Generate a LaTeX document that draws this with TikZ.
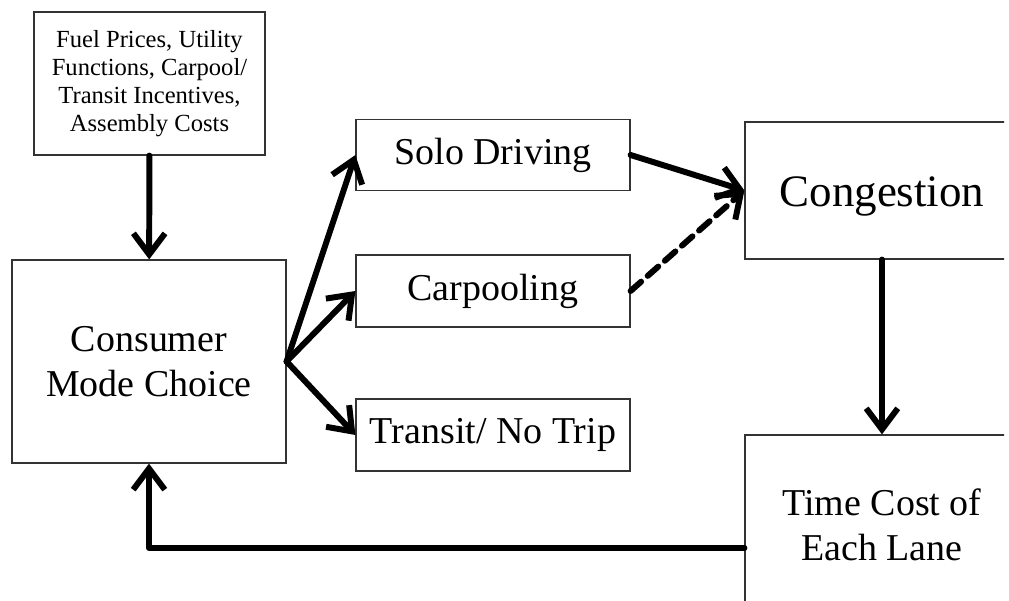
\documentclass[tikz,border=0pt]{standalone}
\usepackage{fontspec}
\setmainfont{Liberation Serif}
\usetikzlibrary{arrows.meta}

\begin{document}
\begin{tikzpicture}[x=0.02cm, y=-0.02cm]
                \useasboundingbox (0,0) rectangle (1009,601);
                \clip (0,0) rectangle (1004,601);
                \begin{scope}[every node/.style={draw=black!80, line width=0.7pt, align=center, inner sep=0pt, font=\fontsize{21.6}{25.6}\selectfont}]
                        \node[minimum width=4.62cm, minimum height=2.86cm, font=\fontsize{14}{16}\selectfont] (Inputs) at (149.5,83.5) {Fuel Prices, Utility\\Functions, Carpool/\\Transit Incentives,\\Assembly Costs};
                        \node[minimum width=5.48cm, minimum height=4.06cm] (Consumer) at (149,361.5) {Consumer\\Mode Choice};
                        \node[minimum width=5.48cm, minimum height=1.42cm] (Solo) at (493,155) {Solo Driving};
                        \node[minimum width=5.48cm, minimum height=1.44cm] (Carpool) at (493,291) {Carpooling};
                        \node[minimum width=5.48cm, minimum height=1.44cm] (Transit) at (493,435) {Transit/ No Trip};
                        \node[minimum width=5.48cm, minimum height=2.74cm, text height=0.85cm, font=\fontsize{25.6}{30}\selectfont] (Congestion) at (882,190.5) {Congestion};
                        \node[minimum width=5.48cm, minimum height=3.6cm] (TimeCost) at (882,525) {Time Cost of\\Each Lane};
                \end{scope}
                \begin{scope}[every path/.style={line width=3.4pt, line cap=round, line join=round, -{Straight Barb[length=12pt,width=18pt]}}]
                        \path (Inputs) edge (Consumer);
                        \path (Consumer.east) edge (Solo.west);
                        \path (Consumer.east) edge (Carpool.west);
                        \path (Consumer.east) edge (Transit.west);
                        \path (Solo.east) edge (Congestion.west);
                        \path (Carpool.east) edge[dash pattern=on 8pt off 5pt] (Congestion.west);
                        \path (Congestion) edge (TimeCost);
                        \draw ([yshift=-0.46cm]TimeCost.west) -| (Consumer.south);
                \end{scope}
        \end{tikzpicture}
\end{document}
